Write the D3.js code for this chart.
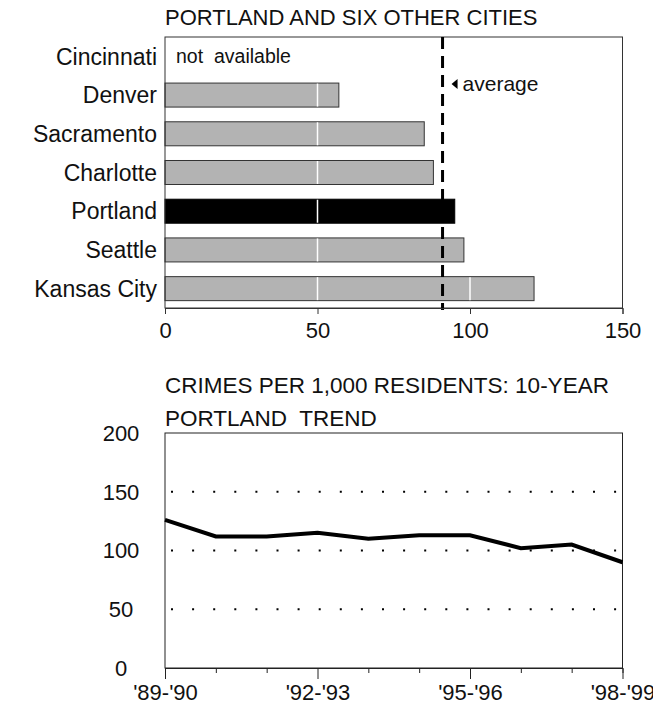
<!DOCTYPE html>
<html>
<head>
<meta charset="utf-8">
<script src="https://cdn.jsdelivr.net/npm/d3@7"></script>
<style>
  html, body { margin: 0; padding: 0; background: #fff; }
  svg { display: block; font-family: "Liberation Sans", Arial, Helvetica, sans-serif; }
</style>
</head>
<body>
<svg id="chart" width="653" height="707"></svg>
<script>
// ---- Data ----
const cities = ["Cincinnati", "Denver", "Sacramento", "Charlotte", "Portland", "Seattle", "Kansas City"];
const crimeRates = [null, 57, 85, 88, 95, 98, 121];
const highlightCity = "Portland";
const averageRate = 91;
const barTicks = [0, 50, 100, 150];
const barWhiteLines = [50, 100];

const years = ["'89-'90", "'90-'91", "'91-'92", "'92-'93", "'93-'94", "'94-'95", "'95-'96", "'96-'97", "'97-'98", "'98-'99"];
const trendValues = [126, 112, 112, 115, 110, 113, 113, 102, 105, 90];
const labeledYears = ["'89-'90", "'92-'93", "'95-'96", "'98-'99"];
const trendTicks = [0, 50, 100, 150, 200];
const trendGrid = [50, 100, 150];

const title1 = "PORTLAND AND SIX OTHER CITIES";
const title2a = "CRIMES PER 1,000 RESIDENTS: 10-YEAR";
const title2b = "PORTLAND  TREND";

const svg = d3.select("#chart");

// ---- Top chart: bars ----
const L = 165, R = 622.5, T1 = 37, B1 = 308;
const x1 = d3.scaleLinear().domain([0, 150]).range([L, R]);
const y1 = d3.scaleBand().domain(cities).range([T1, B1]).paddingInner(0.38).paddingOuter(0.19);

svg.append("text").attr("x", L).attr("y", 25).attr("font-size", 22).attr("fill", "#111").text(title1);

const barData = cities.map((c, i) => ({ city: c, value: crimeRates[i] }));

svg.append("g").selectAll("rect")
  .data(barData.filter(d => d.value !== null))
  .join("rect")
  .attr("x", x1(0))
  .attr("y", d => y1(d.city))
  .attr("width", d => x1(d.value) - x1(0))
  .attr("height", y1.bandwidth())
  .attr("fill", d => d.city === highlightCity ? "#000" : "#b3b3b3")
  .attr("stroke", d => d.city === highlightCity ? "#000" : "#333")
  .attr("stroke-width", 1);

// white lines across bars
svg.append("g").selectAll("line")
  .data(barData.filter(d => d.value !== null).flatMap(d => barWhiteLines.filter(v => v < d.value).map(v => ({ city: d.city, v }))))
  .join("line")
  .attr("x1", d => x1(d.v)).attr("x2", d => x1(d.v))
  .attr("y1", d => y1(d.city) + 0.5).attr("y2", d => y1(d.city) + y1.bandwidth() - 0.5)
  .attr("stroke", "#fff").attr("stroke-width", 1.5);

// not available
svg.append("text")
  .attr("x", x1(0) + 11)
  .attr("y", y1("Cincinnati") + y1.bandwidth() / 2)
  .attr("dy", "0.35em")
  .attr("font-size", 19.5)
  .attr("fill", "#111")
  .style("white-space", "pre")
  .text("not  available");

// frame
svg.append("rect").attr("x", L).attr("y", T1).attr("width", R - L).attr("height", B1 - T1)
  .attr("fill", "none").attr("stroke", "#333").attr("stroke-width", 1);

// average dashed line
svg.append("line")
  .attr("x1", x1(averageRate)).attr("x2", x1(averageRate))
  .attr("y1", T1).attr("y2", B1 + 2)
  .attr("stroke", "#000").attr("stroke-width", 3)
  .attr("stroke-dasharray", "12,7");

// average label
const ax = x1(averageRate);
const ayMid = y1("Denver") + 1;
svg.append("path")
  .attr("d", d3.line()([[ax + 9, ayMid], [ax + 15, ayMid - 5], [ax + 15, ayMid + 5]]) + "Z")
  .attr("fill", "#000");
svg.append("text").attr("x", ax + 20).attr("y", ayMid).attr("dy", "0.33em")
  .attr("font-size", 21).attr("fill", "#111").text("average");

// city labels
svg.append("g").selectAll("text")
  .data(cities)
  .join("text")
  .attr("x", L - 8)
  .attr("y", d => y1(d) + y1.bandwidth() / 2)
  .attr("dy", "0.36em")
  .attr("text-anchor", "end")
  .attr("font-size", 23)
  .attr("fill", "#111")
  .text(d => d);

// x axis
const xAxis1 = svg.append("g").attr("transform", `translate(0,${B1})`)
  .call(d3.axisBottom(x1).tickValues(barTicks).tickSize(6).tickPadding(8).tickFormat(d3.format("d")));
xAxis1.select(".domain").attr("stroke", "#333");
xAxis1.selectAll(".tick line").attr("stroke", "#333");
xAxis1.selectAll(".tick text").attr("font-size", 22).attr("fill", "#111").attr("font-family", "Liberation Sans, Arial, sans-serif");

// ---- Bottom chart: trend line ----
const T2 = 433, B2 = 668;
const x2 = d3.scalePoint().domain(years).range([L, R]);
const y2 = d3.scaleLinear().domain([0, 200]).range([B2, T2]);

svg.append("text").attr("x", L).attr("y", 393).attr("font-size", 22.5).attr("fill", "#111").text(title2a);
svg.append("text").attr("x", L).attr("y", 426).attr("font-size", 22.5).attr("fill", "#111")
  .style("white-space", "pre").text(title2b);

// dotted gridlines
svg.append("g").selectAll("line")
  .data(trendGrid)
  .join("line")
  .attr("x1", L + 6).attr("x2", R)
  .attr("y1", d => y2(d)).attr("y2", d => y2(d))
  .attr("stroke", "#000").attr("stroke-width", 2)
  .attr("stroke-dasharray", "2,19.1");

// frame
svg.append("rect").attr("x", L).attr("y", T2).attr("width", R - L).attr("height", B2 - T2)
  .attr("fill", "none").attr("stroke", "#222").attr("stroke-width", 1);

// trend line
svg.append("path")
  .datum(years.map((y, i) => ({ year: y, value: trendValues[i] })))
  .attr("fill", "none")
  .attr("stroke", "#000")
  .attr("stroke-width", 4)
  .attr("stroke-linejoin", "miter")
  .attr("d", d3.line().x(d => x2(d.year)).y(d => y2(d.value)));

// x axis bottom chart
const xAxis2 = svg.append("g").attr("transform", `translate(0,${B2})`)
  .call(d3.axisBottom(x2).tickSize(5).tickPadding(10).tickFormat(d => labeledYears.includes(d) ? d : ""));
xAxis2.select(".domain").attr("stroke", "#222");
xAxis2.selectAll(".tick line")
  .attr("stroke", "#222")
  .attr("y2", d => labeledYears.includes(d) ? 11 : 5);
xAxis2.selectAll(".tick text").attr("font-size", 22).attr("fill", "#111").attr("font-family", "Liberation Sans, Arial, sans-serif")
  .attr("y", 16);

// y labels bottom chart
svg.append("g").selectAll("text")
  .data(trendTicks)
  .join("text")
  .attr("x", 121)
  .attr("y", d => y2(d))
  .attr("dy", "0.36em")
  .attr("text-anchor", "middle")
  .attr("font-size", 22)
  .attr("fill", "#111")
  .text(d => d);
</script>
</body>
</html>
